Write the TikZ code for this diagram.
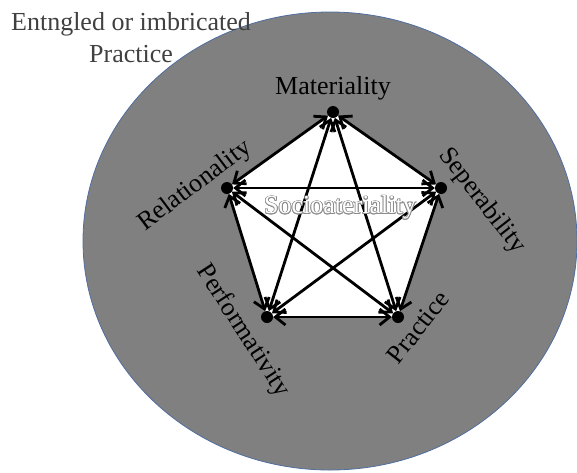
\documentclass[tikz,border=0pt]{standalone}
\usepackage{fontspec}
\setmainfont{Liberation Serif}
\usepackage{contour}
\contourlength{0.8pt}
\contournumber{12}
\usetikzlibrary{arrows.meta,backgrounds}

\tikzset{
  dot/.style={circle,fill=black,inner sep=0pt,minimum size=12pt},
  lbl/.style={font=\fontsize{26}{30}\selectfont,inner sep=0pt},
  link/.style={line width=2.8pt,{Straight Barb[length=10pt,width=16pt]}-{Straight Barb[length=10pt,width=16pt]}}
}

\begin{document}
\begin{tikzpicture}[x=1pt,y=-1pt]
		\useasboundingbox (0,0) rectangle (577,472);
		
		\node[dot] (mat) at (333,112) {};
		\node[dot] (rel) at (227,188) {};
		\node[dot] (sep) at (441,188) {};
		\node[dot] (per) at (267,317) {};
		\node[dot] (pra) at (398,317) {};
		
		\begin{scope}[on background layer]
		\draw[fill=gray,draw={rgb,255:red,80;green,110;blue,160},line width=0.8pt] (330,241) ellipse (247 and 229);
		\fill[white] (mat.center) -- (sep.center) -- (pra.center) -- (per.center) -- (rel.center) -- cycle;
		\end{scope}
		
		\draw[link] (mat) -- (rel);
		\draw[link] (mat) -- (sep);
		\draw[link] (mat) -- (per);
		\draw[link] (mat) -- (pra);
		\draw[link] (rel) -- (sep);
		\draw[link] (rel) -- (per);
		\draw[link] (rel) -- (pra);
		\draw[link] (sep) -- (per);
		\draw[link] (sep) -- (pra);
		\draw[link] (per) -- (pra);
		
		\node[lbl] (matLbl) at (333,88) {Materiality};
		\node[lbl,rotate=37] (relLbl) at (195,186) {Relationality};
		\node[lbl,rotate=-52] (sepLbl) at (482,201) {Seperability};
		\node[lbl,rotate=-57] (perLbl) at (243,331) {Performativity};
		\node[lbl,rotate=52] (praLbl) at (418,327) {Practice};
		\node[lbl] (socLbl) at (340,208) {\contour{gray!90}{\textcolor{white}{Socioateriality}}};
		\node[lbl,align=center,text=black!75] (title) at (131,38) {Entngled or imbricated\\[2pt]Practice};
		\end{tikzpicture}
\end{document}
